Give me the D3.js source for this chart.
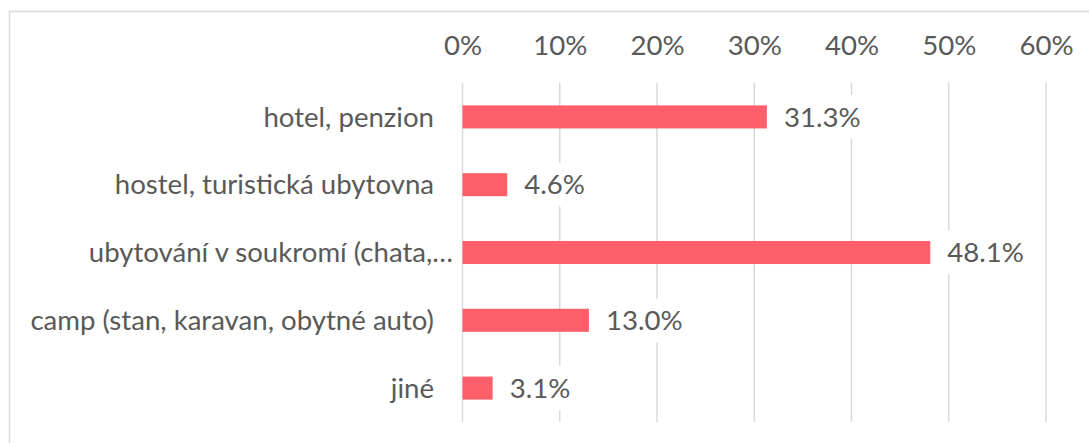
<!DOCTYPE html>
<html lang="cs">
<head>
<meta charset="UTF-8" />
<title>Ubytování</title>
<script src="https://d3js.org/d3.v7.min.js"></script>
<style>
  body { margin: 0; background: #ffffff; }
  svg { display: block; }
  text { font-family: Lato, "Open Sans", sans-serif; fill: #595959; }
  .grid line { stroke: #d9d9d9; stroke-width: 1.5; }
</style>
</head>
<body>
<svg id="chart" width="1089" height="443"></svg>
<script>
const categories = [
  "hotel, penzion",
  "hostel, turistická ubytovna",
  "ubytování v soukromí (chata,…",
  "camp (stan, karavan, obytné auto)",
  "jiné"
];
const values = [0.313, 0.046, 0.481, 0.130, 0.031];
const ticks = [0, 0.1, 0.2, 0.3, 0.4, 0.5, 0.6];

const W = 1089, H = 443;
const fontSize = 27.6;
const svg = d3.select("#chart");

// chart frame (cut off at the right and bottom, like the source)
svg.append("rect")
  .attr("x", 9.5).attr("y", 11.5)
  .attr("width", W + 20).attr("height", H + 20)
  .attr("fill", "none").attr("stroke", "#d9d9d9").attr("stroke-width", 1.5);

const x = d3.scaleLinear().domain([0, 0.6]).range([462.5, 1046]);
const y = d3.scaleBand().domain(categories).range([83, 422])
  .paddingInner(0.66).paddingOuter(0.33);

// gridlines
svg.append("g").attr("class", "grid")
  .selectAll("line").data(ticks).join("line")
  .attr("x1", d => x(d)).attr("x2", d => x(d))
  .attr("y1", 83).attr("y2", 422);

// top axis labels
const axis = svg.append("g")
  .attr("transform", "translate(0,55)")
  .call(d3.axisTop(x).tickValues(ticks).tickSize(0).tickPadding(0).tickFormat(d3.format(".0%")));
axis.select(".domain").remove();
axis.selectAll("text").attr("font-size", fontSize).attr("fill", "#595959")
  .style("font-family", "Lato, 'Open Sans', sans-serif");

const rows = categories.map((c, i) => ({ cat: c, val: values[i] }));

// bars
svg.append("g").selectAll("rect").data(rows).join("rect")
  .attr("x", x(0))
  .attr("y", d => y(d.cat))
  .attr("width", d => x(d.val) - x(0))
  .attr("height", y.bandwidth())
  .attr("fill", "#fe5f6a");

// category labels
svg.append("g").selectAll("text").data(rows).join("text")
  .attr("x", d => d.cat.endsWith("…") ? 453 : 434)
  .attr("y", d => y(d.cat) + y.bandwidth() / 2)
  .attr("dy", "0.35em")
  .attr("text-anchor", "end")
  .attr("font-size", fontSize)
  .text(d => d.cat);

// value labels with white boxes over gridlines
const vl = svg.append("g").selectAll("g").data(rows).join("g");
vl.append("text")
  .attr("x", d => x(d.val) + 17)
  .attr("y", d => y(d.cat) + y.bandwidth() / 2)
  .attr("dy", "0.35em")
  .attr("font-size", fontSize)
  .text(d => d3.format(".1%")(d.val));
vl.each(function () {
  const t = d3.select(this).select("text");
  const bb = t.node().getBBox();
  const cy = +t.attr("y");
  d3.select(this).insert("rect", "text")
    .attr("x", bb.x - 6).attr("y", cy - 22)
    .attr("width", bb.width + 12).attr("height", 44)
    .attr("fill", "#ffffff");
});
</script>
</body>
</html>
